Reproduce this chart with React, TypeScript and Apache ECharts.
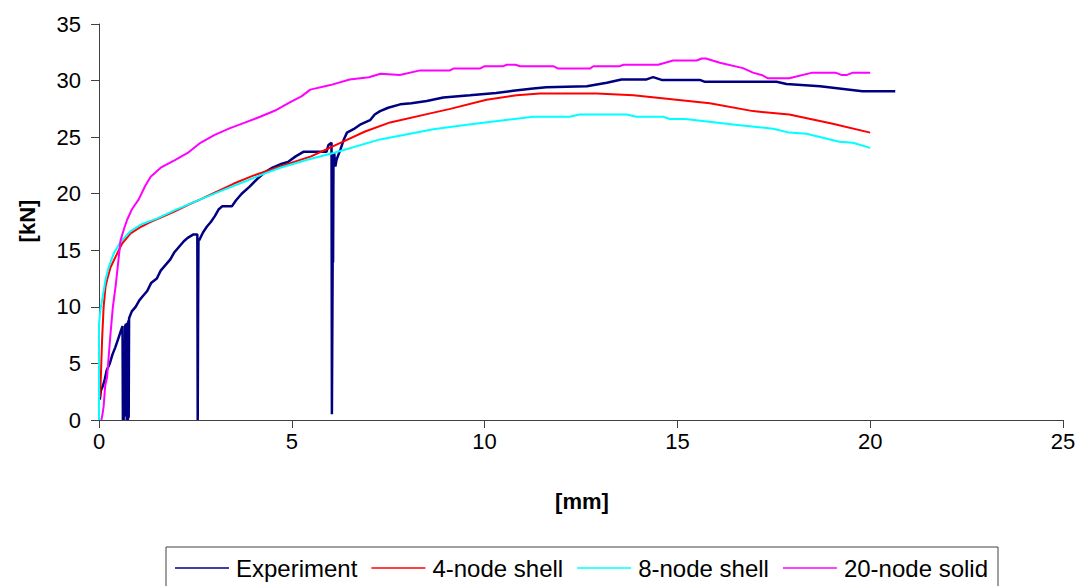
import React, { useEffect, useRef } from "react";
import * as echarts from "echarts";

const seriesNames = ["Experiment", "4-node shell", "8-node shell", "20-node solid"];
const seriesColors = ["#000080", "#FF0000", "#00FFFF", "#FF00FF"];
const xTicks = { min: 0, max: 25, interval: 5 };
const yTicks = { min: 0, max: 35, interval: 5 };

const experiment: number[][] = [
  [0.02, 1.8], [0.05, 2.6], [0.1, 3.0], [0.15, 3.6], [0.2, 4.4], [0.28, 5.0], [0.35, 5.8], [0.42, 6.4], [0.5, 7.2], [0.56, 7.8], [0.61, 8.3],
  [0.62, 0], [0.63, 3.8], [0.64, 0], [0.65, 3.6], [0.66, 0.3], [0.68, 8.3], [0.7, 8.5], [0.72, 0], [0.73, 8.6], [0.75, 0], [0.76, 8.8], [0.77, 0.2], [0.78, 9.0],
  [0.85, 9.6], [0.95, 10.0], [1.05, 10.6], [1.15, 11.0], [1.25, 11.4], [1.35, 12.1], [1.5, 12.5], [1.6, 13.2], [1.7, 13.6], [1.85, 14.2], [1.95, 14.8], [2.05, 15.2], [2.2, 15.8], [2.3, 16.1], [2.45, 16.4], [2.55, 16.4],
  [2.56, 0], [2.57, 10.0], [2.58, 16.0], [2.6, 15.9],
  [2.7, 16.6], [2.8, 17.1], [2.9, 17.5], [3.0, 18.0], [3.1, 18.6], [3.2, 18.9], [3.45, 18.9], [3.55, 19.4], [3.7, 20.0], [3.9, 20.6], [4.1, 21.3], [4.3, 21.9], [4.5, 22.3], [4.7, 22.6], [4.9, 22.8], [5.1, 23.3], [5.3, 23.7], [5.6, 23.7], [5.9, 23.7], [5.95, 24.3], [6.03, 24.5],
  [6.04, 0.5], [6.06, 14.2], [6.07, 13.9], [6.08, 22.5], [6.1, 23.6], [6.13, 22.4], [6.16, 23.0],
  [6.26, 23.9], [6.35, 24.8], [6.43, 25.4], [6.6, 25.7], [6.77, 26.1], [7.03, 26.5], [7.15, 27.0], [7.29, 27.3], [7.5, 27.6], [7.81, 27.9], [8.1, 28.0], [8.5, 28.2], [8.93, 28.5], [9.62, 28.7], [10.3, 28.9], [10.74, 29.1], [11.26, 29.3], [11.6, 29.4], [12.65, 29.5], [13.17, 29.8], [13.55, 30.1], [14.2, 30.1], [14.37, 30.3], [14.59, 30.06], [15.58, 30.06], [15.7, 29.9], [17.57, 29.9], [17.83, 29.7], [18.7, 29.5], [19.8, 29.05], [20.65, 29.05],
];

const shell4: number[][] = [
  [0.03, 2.0], [0.05, 4.0], [0.08, 7.1], [0.12, 10.0], [0.17, 11.8], [0.21, 12.4], [0.3, 13.5], [0.47, 14.7], [0.6, 15.6], [0.82, 16.5], [1.05, 17.0], [1.33, 17.5], [1.6, 17.9], [1.94, 18.4], [2.3, 19.0], [2.63, 19.5], [3.0, 20.1], [3.5, 20.9], [4.0, 21.6], [4.7, 22.4], [5.5, 23.3], [6.26, 24.5], [6.9, 25.5], [7.55, 26.3], [8.59, 27.1], [9.11, 27.5], [10.05, 28.3], [10.83, 28.7], [11.44, 28.85], [12.9, 28.85], [13.86, 28.7], [15.84, 28.0], [16.96, 27.3], [17.9, 27.0], [19.0, 26.2], [20.0, 25.4],
];

const shell8: number[][] = [
  [0.0, 0], [0.0, 8.5], [0.04, 9.8], [0.08, 10.6], [0.17, 12.4], [0.25, 13.5], [0.38, 14.7], [0.55, 15.7], [0.82, 16.7], [1.1, 17.3], [1.5, 17.8], [2.0, 18.6], [2.63, 19.5], [3.2, 20.3], [3.8, 21.1], [4.3, 21.8], [4.7, 22.3], [5.4, 23.0], [6.08, 23.6], [7.29, 24.8], [8.67, 25.7], [9.54, 26.1], [10.5, 26.5], [11.26, 26.8], [12.2, 26.8], [12.47, 27.0], [13.68, 27.0], [13.94, 26.8], [14.63, 26.8], [14.8, 26.6], [15.2, 26.6], [16.5, 26.1], [17.48, 25.75], [17.9, 25.4], [18.35, 25.3], [19.2, 24.6], [19.55, 24.5], [20.0, 24.05],
];

const solid20: number[][] = [
  [0.06, 0], [0.09, 0.5], [0.12, 1.2], [0.16, 3.0], [0.21, 3.8], [0.26, 6.0], [0.3, 7.7], [0.36, 10.0], [0.43, 11.8], [0.5, 14.0], [0.56, 15.9], [0.65, 16.9], [0.73, 17.7], [0.85, 18.6], [1.03, 19.5], [1.2, 20.7], [1.34, 21.5], [1.6, 22.3], [1.98, 23.0], [2.3, 23.6], [2.63, 24.5], [3.0, 25.2], [3.4, 25.8], [3.8, 26.3], [4.18, 26.8], [4.6, 27.4], [4.96, 28.1], [5.25, 28.6], [5.48, 29.2], [6.0, 29.6], [6.5, 30.1], [7.0, 30.3], [7.3, 30.6], [7.8, 30.5], [8.33, 30.9], [9.1, 30.9], [9.19, 31.06], [9.88, 31.06], [10.0, 31.27], [10.49, 31.27], [10.57, 31.4], [10.8, 31.4], [10.92, 31.27], [11.78, 31.27], [11.91, 31.06], [12.73, 31.06], [12.82, 31.27], [13.51, 31.27], [13.6, 31.4], [14.5, 31.4], [14.89, 31.77], [15.5, 31.77], [15.63, 31.95], [15.74, 31.95], [16.1, 31.57], [16.7, 31.1], [16.96, 30.7], [17.18, 30.5], [17.35, 30.2], [17.9, 30.2], [18.5, 30.7], [19.1, 30.7], [19.25, 30.5], [19.4, 30.5], [19.55, 30.7], [20.0, 30.7],
];

const allData = [experiment, shell4, shell8, solid20];
const xTitle = "[mm]";
const yTitle = "[kN]";

const FONT = "Arial, 'Liberation Sans', sans-serif";

export default function App() {
  const ref = useRef<HTMLDivElement>(null);
  useEffect(() => {
    if (!ref.current) return;
    const chart = echarts.init(ref.current, undefined, { renderer: "svg" });
    const axisCommon = {
      axisLine: { show: true, lineStyle: { color: "#404040", width: 1 } },
      axisTick: { show: true, inside: false, length: 8, lineStyle: { color: "#404040" } },
      splitLine: { show: false },
    };
    chart.setOption({
      animation: false,
      backgroundColor: "#ffffff",
      grid: { left: 99, right: 20, top: 24, bottom: 166 },
      xAxis: {
        type: "value",
        ...xTicks,
        ...axisCommon,
        axisLabel: { fontSize: 22, color: "#000", fontFamily: FONT, margin: 10 },
      },
      yAxis: {
        type: "value",
        ...yTicks,
        ...axisCommon,
        axisLabel: { fontSize: 22, color: "#000", fontFamily: FONT, margin: 18 },
      },
      legend: {
        show: true,
        left: 166,
        top: 547,
        padding: [9, 10, 24, 9],
        itemGap: 14,
        itemWidth: 54,
        itemHeight: 1.5,
        icon: "rect",
        borderColor: "#404040",
        borderWidth: 1,
        borderRadius: 0,
        textStyle: { fontSize: 24, color: "#000", fontFamily: FONT, padding: [0, 0, 0, 2] },
        data: seriesNames,
      },
      graphic: [
        {
          type: "text",
          x: 582,
          y: 501,
          style: { text: xTitle, fontSize: 22, fontWeight: "bold", fontFamily: FONT, fill: "#000", textAlign: "center", textVerticalAlign: "middle" },
        },
        {
          type: "text",
          x: 27,
          y: 221,
          rotation: Math.PI / 2,
          style: { text: yTitle, fontSize: 22, fontWeight: "bold", fontFamily: FONT, fill: "#000", textAlign: "center", textVerticalAlign: "middle" },
        },
      ],
      series: allData.map((d, i) => ({
        name: seriesNames[i],
        type: "line",
        data: d,
        showSymbol: false,
        symbol: "none",
        color: seriesColors[i],
        lineStyle: { color: seriesColors[i], width: i === 0 ? 2.5 : 2 },
        z: i === 0 ? 2 : 3,
      })),
    });
    return () => chart.dispose();
  }, []);
  return <div ref={ref} style={{ position: "absolute", left: 0, top: 0, width: 1083, height: 586 }} />;
}
